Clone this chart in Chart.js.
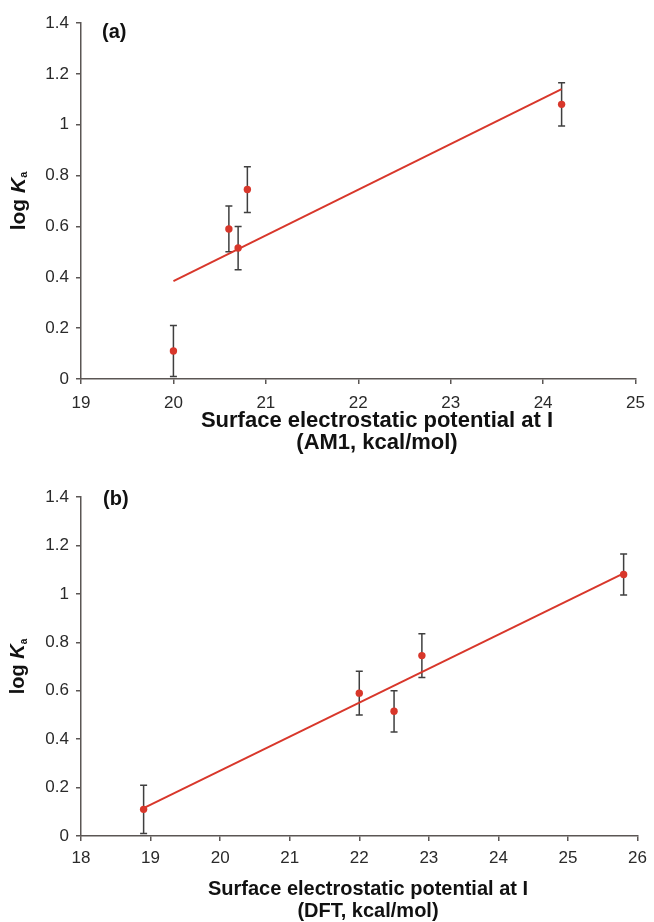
<!DOCTYPE html>
<html>
<head>
<meta charset="utf-8">
<script src="https://cdn.jsdelivr.net/npm/chart.js@4.4.1/dist/chart.umd.min.js"></script>
<style>
  html, body { margin: 0; padding: 0; background: #fff; }
  #wrap-a { position: absolute; left: 0; top: 0; width: 654px; height: 455px; }
  #wrap-b { position: absolute; left: 0; top: 455px; width: 654px; height: 467px; }
</style>
</head>
<body>
<div id="wrap-a"><canvas id="chart-a"></canvas></div>
<div id="wrap-b"><canvas id="chart-b"></canvas></div>
<script>
// measured log Ka with error, same for both panels
const logKa = [0.11, 0.59, 0.515, 0.745, 1.08];
const logKaErr = [0.1, 0.09, 0.085, 0.09, 0.085];

// panel (a) - AM1 potentials and fit line ends
const am1Potential = [20.0, 20.6, 20.7, 20.8, 24.2];
const am1FitX = [20.0, 24.2];
const am1FitY = [0.385, 1.14];

// panel (b) - DFT potentials and fit line ends
const dftPotential = [18.9, 22.0, 22.5, 22.9, 25.8];
const dftFitX = [18.9, 25.8];
const dftFitY = [0.115, 1.085];

const FONT = "'Liberation Sans', Arial, Helvetica, sans-serif";
const RED = '#d8372b';
const AXIS = '#5b5654';

Chart.defaults.font.family = FONT;
Chart.defaults.color = '#2a2a2a';

// vertical error bars with small caps
const errorBars = {
  id: 'errorBars',
  beforeDatasetsDraw(chart, args, o) {
    const { ctx, scales: { x, y } } = chart;
    ctx.save();
    ctx.strokeStyle = '#3f3f3f';
    ctx.lineWidth = 1.5;
    o.xs.forEach((xv, i) => {
      const px = x.getPixelForValue(xv);
      const top = y.getPixelForValue(o.ys[i] + o.errs[i]);
      const bot = y.getPixelForValue(o.ys[i] - o.errs[i]);
      ctx.beginPath();
      ctx.moveTo(px, top); ctx.lineTo(px, bot);
      ctx.moveTo(px - 3.5, top); ctx.lineTo(px + 3.5, top);
      ctx.moveTo(px - 3.5, bot); ctx.lineTo(px + 3.5, bot);
      ctx.stroke();
    });
    ctx.restore();
  }
};

// panel tag, two-line x title, and "log Ka" y title
const deco = {
  id: 'deco',
  afterDraw(chart, args, o) {
    const { ctx, chartArea } = chart;
    ctx.save();
    ctx.fillStyle = '#111';
    ctx.textBaseline = 'middle';

    ctx.font = `bold ${o.tagSize}px ${FONT}`;
    ctx.textAlign = 'left';
    ctx.fillText(o.tag, o.tagX, o.tagY);

    ctx.font = `bold ${o.xTitleSize}px ${FONT}`;
    ctx.textAlign = 'center';
    o.xTitle.forEach((line, i) => ctx.fillText(line, o.xTitleX, o.xTitleY + i * o.xTitleGap));

    const s = o.yTitleSize;
    ctx.translate(o.yTitleX, (chartArea.top + chartArea.bottom) / 2);
    ctx.rotate(-Math.PI / 2);
    ctx.textAlign = 'left';
    ctx.textBaseline = 'alphabetic';
    const f1 = `bold ${s}px ${FONT}`;
    const f2 = `italic bold ${s}px ${FONT}`;
    const f3 = `bold ${Math.round(s * 0.5)}px ${FONT}`;
    ctx.font = f1; const w1 = ctx.measureText('log ').width;
    ctx.font = f2; const w2 = ctx.measureText('K').width;
    ctx.font = f3; const w3 = ctx.measureText('a').width;
    let x0 = -(w1 + w2 + w3) / 2;
    const base = s * 0.36;
    ctx.font = f1; ctx.fillText('log ', x0, base); x0 += w1;
    ctx.font = f2; ctx.fillText('K', x0, base); x0 += w2;
    ctx.font = f3; ctx.fillText('a', x0, base + s * 0.12);
    ctx.restore();
  }
};

function makePanel(id, cfg) {
  const ctx = document.getElementById(id);
  return new Chart(ctx, {
    type: 'scatter',
    data: {
      datasets: [{
        data: cfg.xs.map((v, i) => ({ x: v, y: logKa[i] })),
        backgroundColor: RED,
        borderColor: RED,
        pointRadius: 3.7,
        pointBorderWidth: 0,
        order: 0
      }, {
        data: cfg.fitX.map((v, i) => ({ x: v, y: cfg.fitY[i] })),
        showLine: true,
        borderColor: RED,
        borderWidth: 2,
        pointRadius: 0,
        order: 1
      }]
    },
    options: {
      responsive: true,
      maintainAspectRatio: false,
      animation: false,
      layout: { padding: { top: cfg.padTop, right: cfg.padRight, left: 0, bottom: 0 } },
      plugins: {
        legend: { display: false },
        tooltip: { enabled: false },
        errorBars: { xs: cfg.xs, ys: logKa, errs: logKaErr },
        deco: cfg.deco
      },
      scales: {
        x: {
          type: 'linear',
          min: cfg.xMin, max: cfg.xMax,
          afterFit: (s) => { s.height = cfg.xHeight; },
          ticks: { stepSize: 1, font: { size: 17 }, padding: cfg.xTickPad },
          grid: { display: true, drawOnChartArea: false, drawTicks: true, tickLength: 5, color: AXIS, lineWidth: 1.5 },
          border: { display: true, color: AXIS, width: 1.5 }
        },
        y: {
          min: 0, max: 1.4,
          afterFit: (s) => { s.width = 81; },
          ticks: { stepSize: 0.2, font: { size: 17 }, padding: 7,
                   callback: (v) => +v.toFixed(1) },
          grid: { display: true, drawOnChartArea: false, drawTicks: true, tickLength: 5, color: AXIS, lineWidth: 1.5 },
          border: { display: true, color: AXIS, width: 1.5 }
        }
      }
    },
    plugins: [errorBars, deco]
  });
}

makePanel('chart-a', {
  xs: am1Potential, fitX: am1FitX, fitY: am1FitY,
  xMin: 19, xMax: 25,
  padTop: 23, padRight: 12, xHeight: 76, xTickPad: 9,
  deco: {
    tag: '(a)', tagSize: 20, tagX: 102, tagY: 32,
    xTitle: ['Surface electrostatic potential at I', '(AM1, kcal/mol)'],
    xTitleSize: 22, xTitleX: 377, xTitleY: 421, xTitleGap: 22,
    yTitleX: 17, yTitleSize: 21
  }
});

makePanel('chart-b', {
  xs: dftPotential, fitX: dftFitX, fitY: dftFitY,
  xMin: 18, xMax: 26,
  padTop: 42, padRight: 11, xHeight: 86, xTickPad: 7,
  deco: {
    tag: '(b)', tagSize: 20, tagX: 103, tagY: 44,
    xTitle: ['Surface electrostatic potential at I', '(DFT, kcal/mol)'],
    xTitleSize: 20, xTitleX: 368, xTitleY: 434, xTitleGap: 22,
    yTitleX: 17, yTitleSize: 20
  }
});
</script>
</body>
</html>
